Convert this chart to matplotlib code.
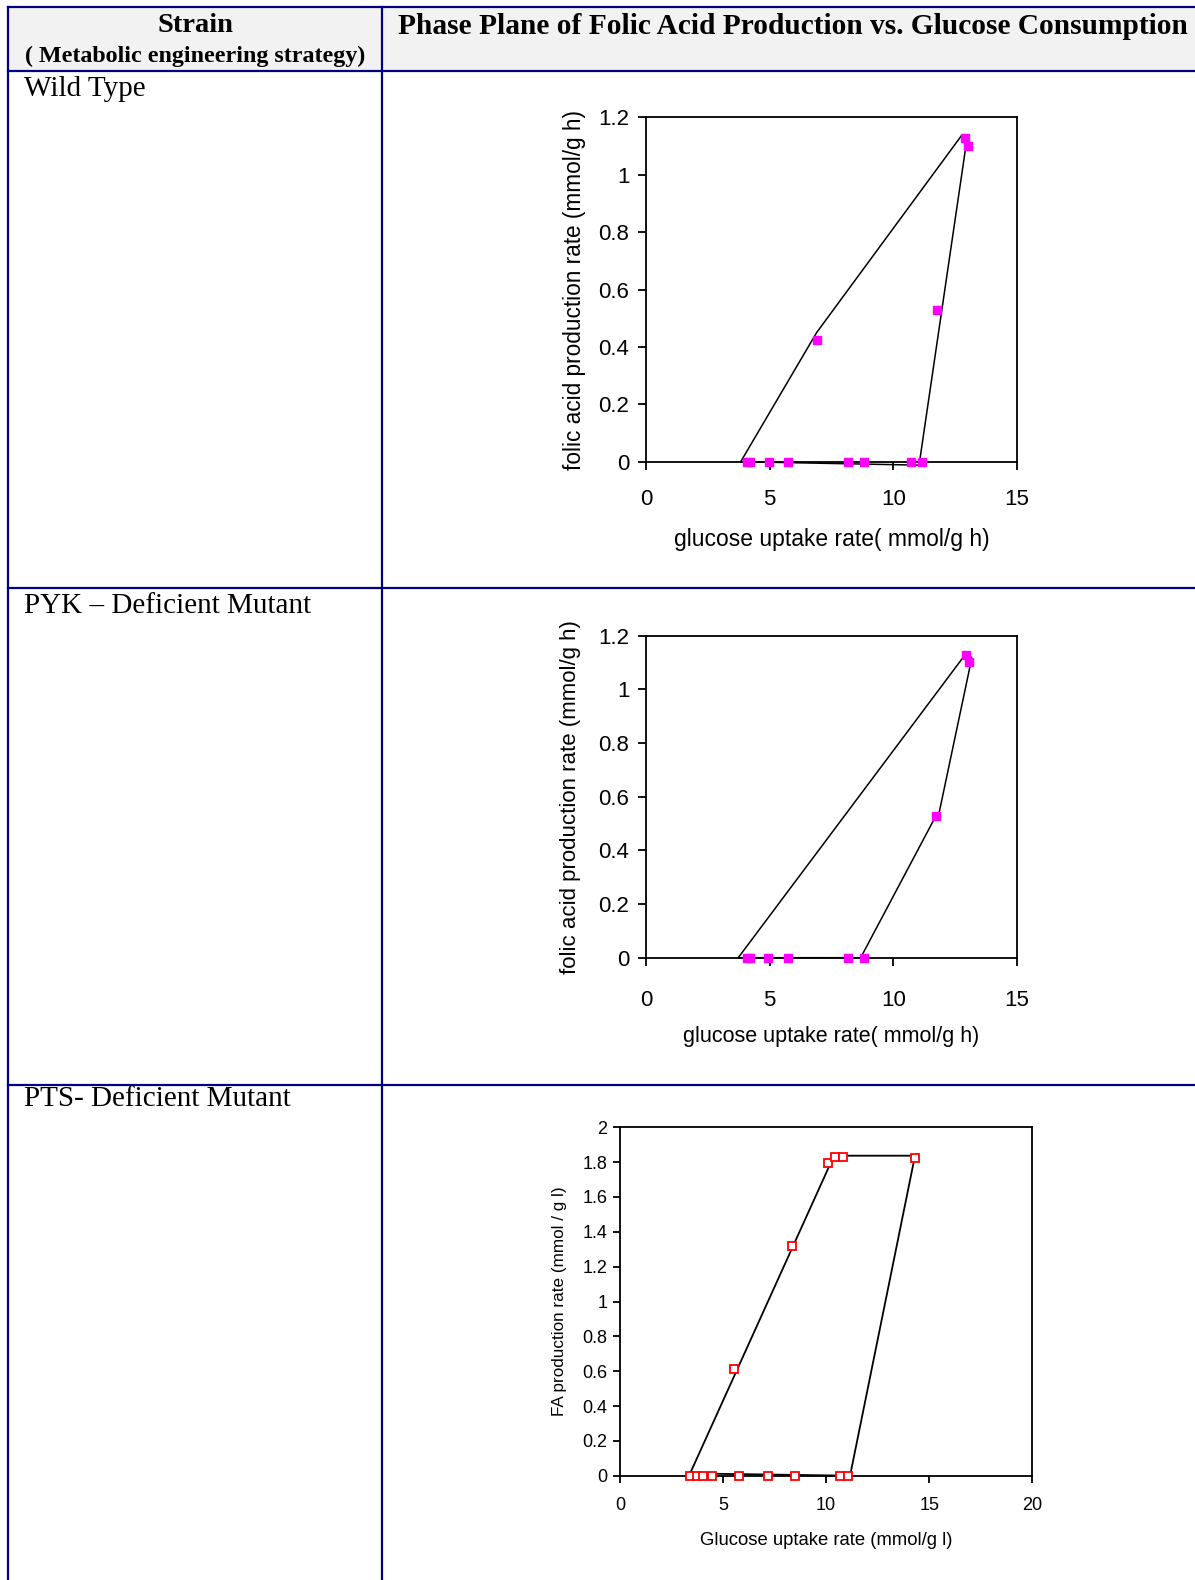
import numpy as np
import matplotlib
matplotlib.use("Agg")
import matplotlib.pyplot as plt
from matplotlib.lines import Line2D
from matplotlib.patches import Rectangle

W, H = 1195, 1580

# ---- data ----
strains = ["Wild Type", "PYK \u2013 Deficient Mutant", "PTS- Deficient Mutant"]

wt_x = [4.07, 4.2, 4.99, 5.75, 8.18, 8.83, 10.7, 11.15, 6.9, 11.75, 12.9, 13.03]
wt_y = [0, 0, 0, 0, 0, 0, 0, 0, 0.424, 0.528, 1.127, 1.10]
wt_hull_x = [3.83, 6.9, 12.77, 12.94, 11.04, 3.83]
wt_hull_y = [0, 0.45, 1.138, 1.103, -0.012, 0]

pyk_x = [4.07, 4.2, 4.92, 5.73, 8.18, 8.82, 11.73, 12.93, 13.07]
pyk_y = [0, 0, 0, 0, 0, 0, 0.528, 1.128, 1.103]
pyk_hull_x = [3.73, 12.99, 13.17, 11.86, 11.69, 8.68, 3.73]
pyk_hull_y = [0, 1.14, 1.116, 0.544, 0.523, 0, 0]

pts_x = [3.4, 3.72, 4.04, 4.45, 5.77, 7.17, 8.49, 10.67, 11.08,
         5.55, 8.36, 10.11, 10.43, 10.84, 14.31]
pts_y = [0, 0, 0, 0, 0, 0, 0, 0, 0,
         0.611, 1.319, 1.793, 1.832, 1.832, 1.826]
pts_hull_x = [3.40, 10.38, 14.31, 11.16, 3.40]
pts_hull_y = [0.013, 1.837, 1.837, 0, 0.013]

fig = plt.figure(figsize=(W / 100, H / 100), dpi=100)
fig.patch.set_facecolor("white")

def fx(px):
    return px / W

def fy(py):
    return 1 - py / H

# ---- table ----
navy = "#000080"
fig.add_artist(Rectangle((fx(8), fy(70.5)), fx(W - 8), (70.5 - 7) / H,
                         transform=fig.transFigure, facecolor="#f2f2f2",
                         edgecolor="none", zorder=0))
for yy in [7, 70.5, 588, 1085]:
    fig.add_artist(Line2D([fx(8), 1], [fy(yy), fy(yy)], transform=fig.transFigure,
                          color=navy, lw=1.6))
for xx in [8, 381.5]:
    fig.add_artist(Line2D([fx(xx), fx(xx)], [fy(7), 0], transform=fig.transFigure,
                          color=navy, lw=1.6))

serif = ["Liberation Serif", "DejaVu Serif"]
fig.text(fx(195), fy(26), "Strain", family=serif, weight="bold", fontsize=20.5,
         ha="center", va="center")
fig.text(fx(195), fy(56), "( Metabolic engineering strategy)", family=serif,
         weight="bold", fontsize=17.3, ha="center", va="center")
fig.text(fx(398), fy(26), "Phase Plane of Folic Acid Production vs. Glucose Consumption",
         family=serif, weight="bold", fontsize=21.2, ha="left", va="center")
for label, yy in zip(strains, [89, 606, 1099]):
    fig.text(fx(24), fy(yy), label, family=serif, fontsize=21, ha="left", va="center")

# ---- plots ----
sans = ["Liberation Sans", "DejaVu Sans"]

def make_ax(left, right, top, bottom):
    return fig.add_axes([fx(left), fy(bottom), (right - left) / W, (bottom - top) / H])

def style(ax, tick_size, pad_x, pad_y):
    for s in ax.spines.values():
        s.set_linewidth(1.3)
        s.set_color("black")
    ax.tick_params(direction="out", length=6, width=1.3, labelsize=tick_size)
    ax.tick_params(axis="x", pad=pad_x)
    ax.tick_params(axis="y", pad=pad_y)
    for t in ax.get_xticklabels() + ax.get_yticklabels():
        t.set_family(sans)

# wild type
ax1 = make_ax(646, 1017, 117.3, 461.7)
ax1.plot(wt_hull_x, wt_hull_y, color="black", lw=1.1, clip_on=False, zorder=2)
ax1.plot(wt_x, wt_y, ls="none", marker="s", ms=6.3, mfc="magenta", mec="magenta",
         clip_on=False, zorder=3)
ax1.set_xlim(0, 15)
ax1.set_ylim(0, 1.2)
ax1.set_xticks([0, 5, 10, 15])
ax1.set_yticks([0, 0.2, 0.4, 0.6, 0.8, 1, 1.2])
ax1.set_yticklabels(["0", "0.2", "0.4", "0.6", "0.8", "1", "1.2"])
style(ax1, 16, 13.5, 6)
ax1.set_xlabel("glucose uptake rate( mmol/g h)", family=sans, fontsize=16.5)
ax1.set_ylabel("folic acid production rate (mmol/g h)", family=sans, fontsize=16.3)
ax1.xaxis.set_label_coords(0.5, -0.193)
ax1.yaxis.set_label_coords(-0.162, 0.5)

# pyk deficient
ax2 = make_ax(646, 1017, 635.7, 957.7)
ax2.plot(pyk_hull_x, pyk_hull_y, color="black", lw=1.1, clip_on=False, zorder=2)
ax2.plot(pyk_x, pyk_y, ls="none", marker="s", ms=6.3, mfc="magenta", mec="magenta",
         clip_on=False, zorder=3)
ax2.set_xlim(0, 15)
ax2.set_ylim(0, 1.2)
ax2.set_xticks([0, 5, 10, 15])
ax2.set_yticks([0, 0.2, 0.4, 0.6, 0.8, 1, 1.2])
ax2.set_yticklabels(["0", "0.2", "0.4", "0.6", "0.8", "1", "1.2"])
style(ax2, 16, 17, 6)
ax2.set_xlabel("glucose uptake rate( mmol/g h)", family=sans, fontsize=15.5)
ax2.set_ylabel("folic acid production rate (mmol/g h)", family=sans, fontsize=16)
ax2.xaxis.set_label_coords(0.5, -0.212)
ax2.yaxis.set_label_coords(-0.174, 0.5)

# pts deficient
ax3 = make_ax(620, 1032.3, 1127.3, 1475.7)
ax3.plot(pts_hull_x, pts_hull_y, color="black", lw=1.3, clip_on=False, zorder=2)
ax3.plot(pts_x, pts_y, ls="none", marker="s", ms=5.5, mfc="white", mec="red",
         mew=1.3, clip_on=False, zorder=3)
ax3.set_xlim(0, 20)
ax3.set_ylim(0, 2)
ax3.set_xticks([0, 5, 10, 15, 20])
ax3.set_yticks(np.arange(0, 2.01, 0.2))
ax3.set_yticklabels(["0", "0.2", "0.4", "0.6", "0.8", "1", "1.2", "1.4", "1.6", "1.8", "2"])
style(ax3, 13, 10, 4)
ax3.tick_params(length=5)
ax3.set_xlabel("Glucose uptake rate (mmol/g l)", family=sans, fontsize=13.3)
ax3.set_ylabel("FA production rate (mmol / g l)", family=sans, fontsize=12.3)
ax3.xaxis.set_label_coords(0.5, -0.162)
ax3.yaxis.set_label_coords(-0.129, 0.5)

fig.savefig("out.png", dpi=100)
